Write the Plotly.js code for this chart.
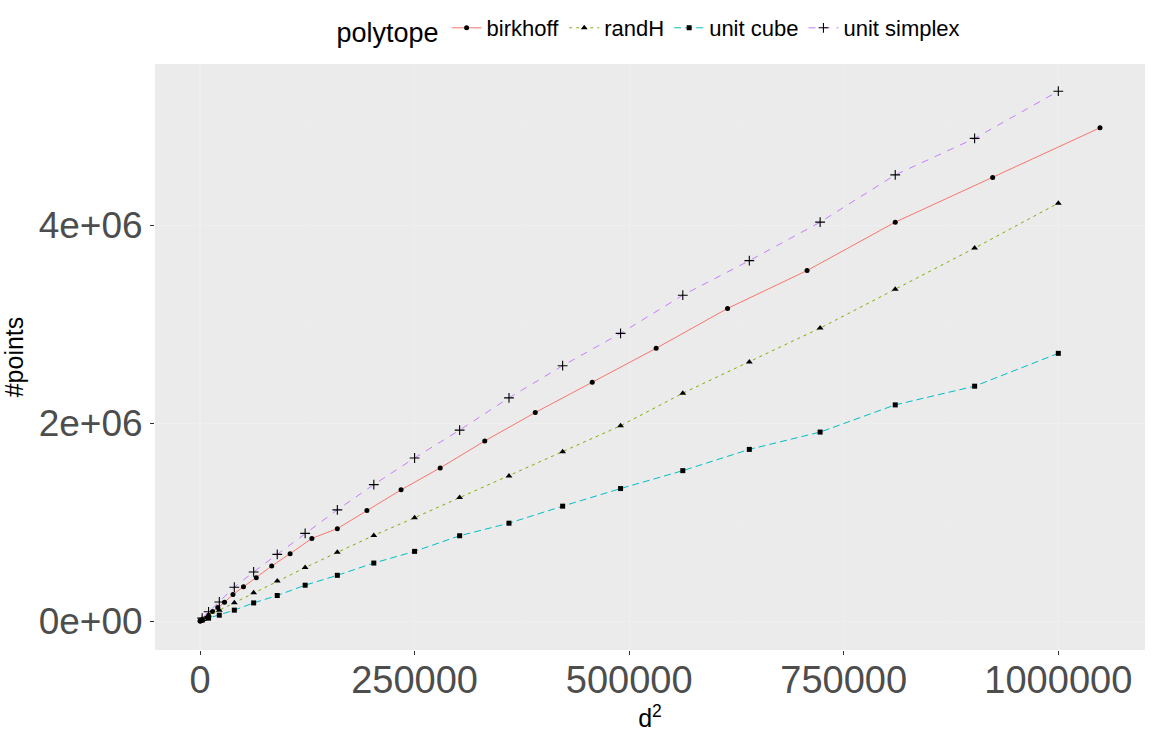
<!DOCTYPE html>
<html>
<head>
<meta charset="utf-8">
<script src="https://cdn.plot.ly/plotly-3.0.1.min.js"></script>
<style>
  html, body { margin: 0; padding: 0; background: #ffffff; }
  #chart { width: 1152px; height: 738px; }
</style>
</head>
<body>
<div id="chart"></div>
<script>
// x values: d^2 (birkhoff uses its own dimensions)
const birkhoffX = [81, 256, 625, 1296, 2401, 4096, 6561, 10000, 14641, 20736, 28561, 38416, 50625, 65536,
    83521, 104976, 130321, 160000, 194481, 234256, 279841, 331776, 390625, 456976, 531441,
    614656, 707281, 810000, 923521, 1048576];
const birkhoffY = [500, 1500, 3500, 7000, 12000, 20000, 28000, 60000, 96000, 138000, 191000, 269000, 348000, 438000,
    557000, 682000, 836000, 935000, 1118000, 1327000, 1549000, 1821000, 2109000, 2415000, 2758000,
    3161000, 3544000, 4033000, 4484000, 4987000];

const gridX = [2500, 10000, 22500, 40000, 62500, 90000, 122500, 160000, 202500, 250000, 302500, 360000,
    422500, 490000, 562500, 640000, 722500, 810000, 902500, 1000000];
const randHY = [20000, 60000, 110000, 186000, 287000, 406000, 541000, 695000, 866000, 1045000, 1249000, 1468000,
    1713000, 1975000, 2304000, 2620000, 2962000, 3355000, 3771000, 4225000];
const cubeY = [10000, 30000, 60000, 111000, 184000, 259000, 363000, 463000, 587000, 705000, 863000, 990000,
    1162000, 1340000, 1521000, 1736000, 1911000, 2186000, 2375000, 2707000];
const simplexY = [30000, 94000, 194000, 343000, 497000, 675000, 887000, 1125000, 1380000, 1649000, 1931000, 2257000,
    2582000, 2909000, 3295000, 3644000, 4033000, 4511000, 4880000, 5357000];

const xTicks = [0, 250000, 500000, 750000, 1000000];
const xTickText = ['0', '250000', '500000', '750000', '1000000'];
const xMinor = [125000, 375000, 625000, 875000];
const yTicks = [0, 2000000, 4000000];
const yTickText = ['0e+00', '2e+06', '4e+06'];
const yMinor = [1000000, 3000000, 5000000];

const FONT = 'Liberation Sans, Arial, sans-serif';

function series(name, x, y, color, dash, symbol, size) {
    return {
        type: 'scatter',
        mode: 'lines+markers',
        name: name,
        x: x,
        y: y,
        line: { color: color, width: 1, dash: dash },
        marker: {
            symbol: symbol,
            size: size,
            color: '#000000',
            line: { color: '#000000', width: symbol === 'cross-thin' ? 1.1 : 0 }
        }
    };
}

const data = [
    series('birkhoff', birkhoffX, birkhoffY, '#F8766D', 'solid', 'circle', 5),
    series('randH', gridX, randHY, '#7CAE00', '3px,4px', 'triangle-up', 6),
    series('unit cube', gridX, cubeY, '#00BFC4', '7px,4px', 'square', 5),
    series('unit simplex', gridX, simplexY, '#C77CFF', '7px,7px', 'cross-thin', 7)
];

const layout = {
    width: 1152,
    height: 738,
    paper_bgcolor: '#ffffff',
    plot_bgcolor: '#EBEBEB',
    margin: { l: 155, r: 7, t: 62, b: 88, pad: 0 },
    font: { family: FONT, color: '#000000' },
    showlegend: true,
    legend: {
        orientation: 'h',
        x: 0.5,
        xanchor: 'center',
        y: 1.058,
        yanchor: 'middle',
        font: { size: 22, family: FONT, color: '#000000' },
        title: { text: 'polytope', side: 'left', font: { size: 27, family: FONT } },
        itemwidth: 30,
        bgcolor: 'rgba(0,0,0,0)'
    },
    xaxis: {
        range: [-52429, 1101005],
        tickmode: 'array',
        tickvals: xTicks,
        ticktext: xTickText,
        tickfont: { size: 38, color: '#4D4D4D', family: FONT },
        ticks: 'outside',
        ticklen: 4,
        tickcolor: '#333333',
        ticklabelstandoff: -8,
        showgrid: true,
        gridcolor: '#EFEFEF',
        gridwidth: 1.1,
        minor: { tickmode: 'array', tickvals: xMinor, showgrid: true, gridcolor: '#EDEDED', gridwidth: 0.5, ticks: '' },
        zeroline: false,
        showline: false,
        title: { text: 'd<sup>2</sup>', font: { size: 25, family: FONT }, standoff: 6 }
    },
    yaxis: {
        range: [-292000, 5632000],
        tickmode: 'array',
        tickvals: yTicks,
        ticktext: yTickText,
        tickfont: { size: 37, color: '#4D4D4D', family: FONT },
        ticks: 'outside',
        ticklen: 4,
        tickcolor: '#333333',
        showgrid: true,
        gridcolor: '#EFEFEF',
        gridwidth: 1.1,
        minor: { tickmode: 'array', tickvals: yMinor, showgrid: true, gridcolor: '#EDEDED', gridwidth: 0.5, ticks: '' },
        zeroline: false,
        showline: false,
        title: { text: '#points', font: { size: 25, family: FONT }, standoff: 8 }
    }
};

Plotly.newPlot('chart', data, layout, { displayModeBar: false, staticPlot: true });
</script>
</body>
</html>
